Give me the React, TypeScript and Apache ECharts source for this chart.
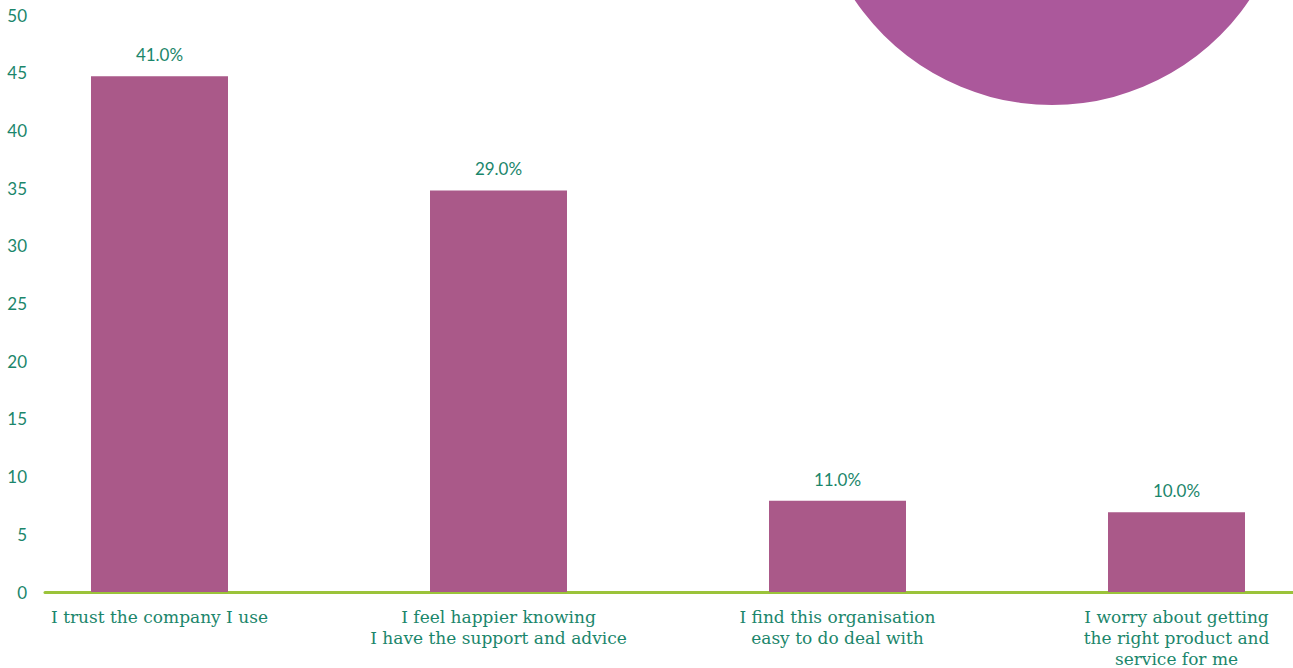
import React, { useEffect, useRef } from "react";
import * as echarts from "echarts";

const categories = [
  "I trust the company I use",
  "I feel happier knowing\nI have the support and advice",
  "I find this organisation\neasy to do deal with",
  "I worry about getting\nthe right product and\nservice for me",
];
const barValues = [44.7, 34.8, 7.9, 6.9];
const barLabels = ["41.0%", "29.0%", "11.0%", "10.0%"];
const yTicks = { min: 0, max: 50, interval: 5 };

const TEAL = "#1b866b";
const BAR = "#aa5989";
const CIRCLE = "#ab589b";
const GREEN = "#9bc33a";

export default function App() {
  const ref = useRef<HTMLDivElement>(null);
  useEffect(() => {
    if (!ref.current) return;
    const chart = echarts.init(ref.current, undefined, { renderer: "svg" });
    chart.setOption({
      animation: false,
      backgroundColor: "#ffffff",
      graphic: [
        {
          type: "circle",
          shape: { cx: 1052, cy: -133, r: 238 },
          style: { fill: CIRCLE },
          z: 0,
        },
      ],
      grid: [
        { left: -10, right: -53, top: 15, bottom: 76, outerBoundsMode: "none", containLabel: false },
        { left: 45, right: 0, top: 15, bottom: 76, outerBoundsMode: "none", containLabel: false },
      ],
      xAxis: [
        {
          type: "category",
          gridIndex: 0,
          data: categories,
          axisLine: { show: false },
          axisTick: { show: false },
          axisLabel: {
            interval: 0,
            color: TEAL,
            fontFamily: "DejaVu Serif",
            fontSize: 17,
            lineHeight: 21,
            margin: 14,
          },
        },
        {
          type: "value",
          gridIndex: 1,
          min: 0,
          max: 1,
          axisLine: { show: true, onZero: false, lineStyle: { color: GREEN, width: 3 } },
          axisTick: { show: false },
          axisLabel: { show: false },
          splitLine: { show: false },
        },
      ],
      yAxis: [
        {
          type: "value",
          gridIndex: 0,
          min: yTicks.min,
          max: yTicks.max,
          interval: yTicks.interval,
          offset: -55,
          axisLine: { show: false },
          axisTick: { show: false },
          splitLine: { show: false },
          axisLabel: {
            color: TEAL,
            fontFamily: "Lato",
            fontSize: 17,
            margin: 18,
          },
        },
        {
          type: "value",
          gridIndex: 1,
          min: 0,
          max: 1,
          show: false,
        },
      ],
      series: [
        {
          type: "bar",
          xAxisIndex: 0,
          yAxisIndex: 0,
          data: barValues,
          barWidth: 137,
          itemStyle: { color: BAR },
          z: 3,
          label: {
            show: true,
            position: "top",
            distance: 13,
            color: TEAL,
            fontFamily: "Lato",
            fontSize: 17,
            formatter: (p: any) => barLabels[p.dataIndex],
          },
        },
      ],
    });
    return () => chart.dispose();
  }, []);
  return (
    <div
      ref={ref}
      style={{ position: "fixed", left: 0, top: 0, width: 1293, height: 668 }}
    />
  );
}
